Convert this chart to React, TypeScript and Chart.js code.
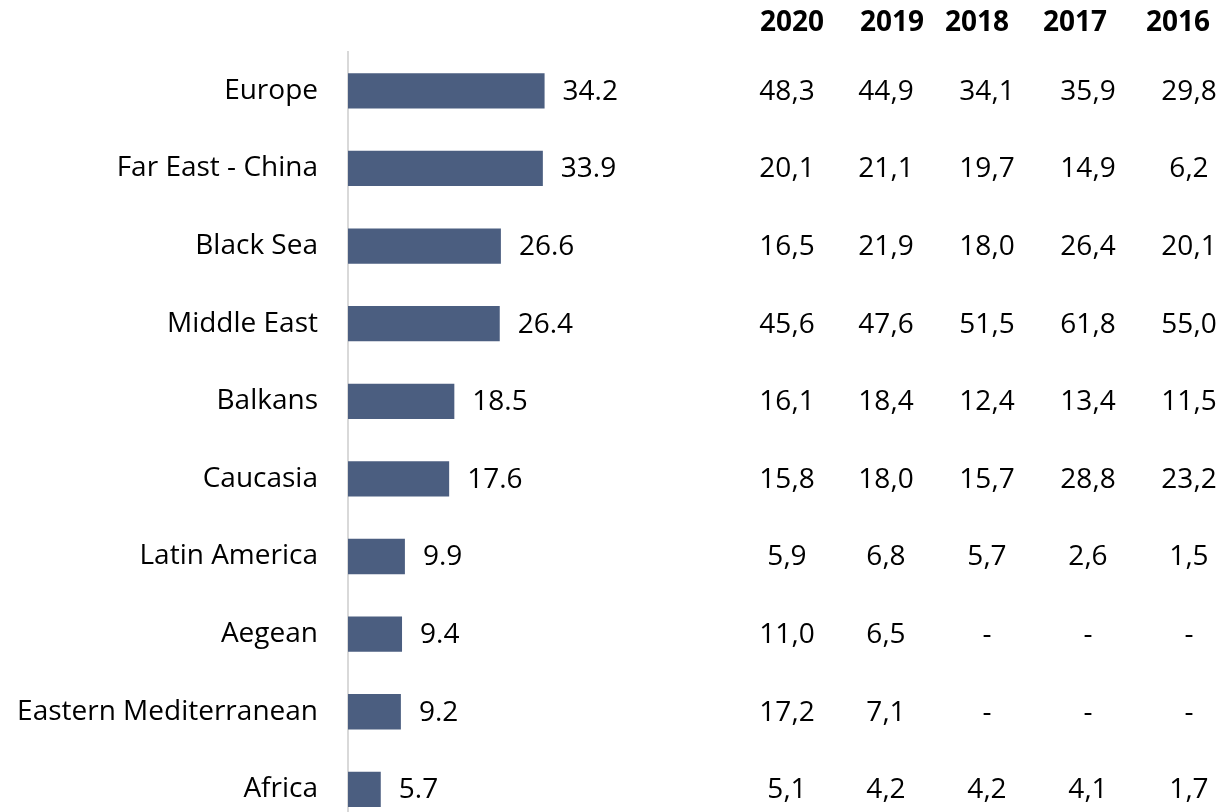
import React, { useEffect, useRef } from "react";
import { Chart, registerables } from "chart.js";

Chart.register(...registerables);

const categories = [
  "Europe",
  "Far East - China",
  "Black Sea",
  "Middle East",
  "Balkans",
  "Caucasia",
  "Latin America",
  "Aegean",
  "Eastern Mediterranean",
  "Africa",
];
const barValues = [34.2, 33.9, 26.6, 26.4, 18.5, 17.6, 9.9, 9.4, 9.2, 5.7];

const years = ["2020", "2019", "2018", "2017", "2016"];
const y2020 = [48.3, 20.1, 16.5, 45.6, 16.1, 15.8, 5.9, 11.0, 17.2, 5.1];
const y2019 = [44.9, 21.1, 21.9, 47.6, 18.4, 18.0, 6.8, 6.5, 7.1, 4.2];
const y2018 = [34.1, 19.7, 18.0, 51.5, 12.4, 15.7, 5.7, null, null, 4.2];
const y2017 = [35.9, 14.9, 26.4, 61.8, 13.4, 28.8, 2.6, null, null, 4.1];
const y2016 = [29.8, 6.2, 20.1, 55.0, 11.5, 23.2, 1.5, null, null, 1.7];
const tableColumns = [y2020, y2019, y2018, y2017, y2016];

const FONT = "'Open Sans', sans-serif";
const FONT_SIZE = 28;
const CANVAS_H = 875;

export default function App() {
  const ref = useRef<HTMLCanvasElement | null>(null);

  useEffect(() => {
    const canvas = ref.current;
    if (!canvas) return;

    const valueCols = [787, 886, 987, 1088, 1189];
    const headerCols = [792, 892, 977, 1075, 1178];

    const labelsPlugin = {
      id: "extras",
      afterDatasetsDraw(chart: any) {
        const ctx = chart.ctx;
        const meta = chart.getDatasetMeta(0);
        ctx.save();
        ctx.fillStyle = "#000";
        ctx.textBaseline = "middle";
        ctx.font = `${FONT_SIZE}px ${FONT}`;
        ctx.textAlign = "left";
        meta.data.forEach((bar: any, i: number) => {
          ctx.fillText(barValues[i].toFixed(1), bar.x + 18, bar.y + 1);
        });
        const yScale = chart.scales.y;
        ctx.textAlign = "center";
        tableColumns.forEach((col, c) => {
          col.forEach((v, r) => {
            const y = yScale.getPixelForValue(r) + 1;
            const txt = v === null ? "-" : v.toFixed(1).replace(".", ",");
            ctx.fillText(txt, valueCols[c], y);
          });
        });
        ctx.font = `bold ${FONT_SIZE}px ${FONT}`;
        years.forEach((yr, c) => {
          ctx.fillText(yr, headerCols[c], 23);
        });
        ctx.restore();
      },
    };

    const chart = new Chart(canvas, {
      type: "bar",
      data: {
        labels: categories,
        datasets: [
          {
            data: barValues,
            backgroundColor: "#4B5E80",
            borderWidth: 0,
            barPercentage: 0.455,
            categoryPercentage: 1,
          },
        ],
      },
      options: {
        indexAxis: "y",
        animation: false,
        responsive: false,
        maintainAspectRatio: false,
        layout: { padding: { top: 52, right: 532, left: 0, bottom: 0 } },
        plugins: {
          legend: { display: false },
          tooltip: { enabled: false },
        },
        scales: {
          x: { display: false, min: 0, max: 59.5 },
          y: {
            afterFit(scale: any) {
              scale.width = 348;
            },
            grid: { display: false, drawTicks: false },
            border: { display: true, color: "#d9d9d9", width: 2 },
            ticks: {
              color: "#000",
              padding: 30,
              font: { family: FONT, size: FONT_SIZE },
            },
          },
        },
      },
      plugins: [labelsPlugin],
    });
    return () => chart.destroy();
  }, []);

  return (
    <div style={{ position: "fixed", left: 0, top: 0, width: 1222, height: CANVAS_H, background: "#fff" }}>
      <canvas ref={ref} width={1222} height={CANVAS_H} style={{ width: 1222, height: CANVAS_H }} />
    </div>
  );
}
